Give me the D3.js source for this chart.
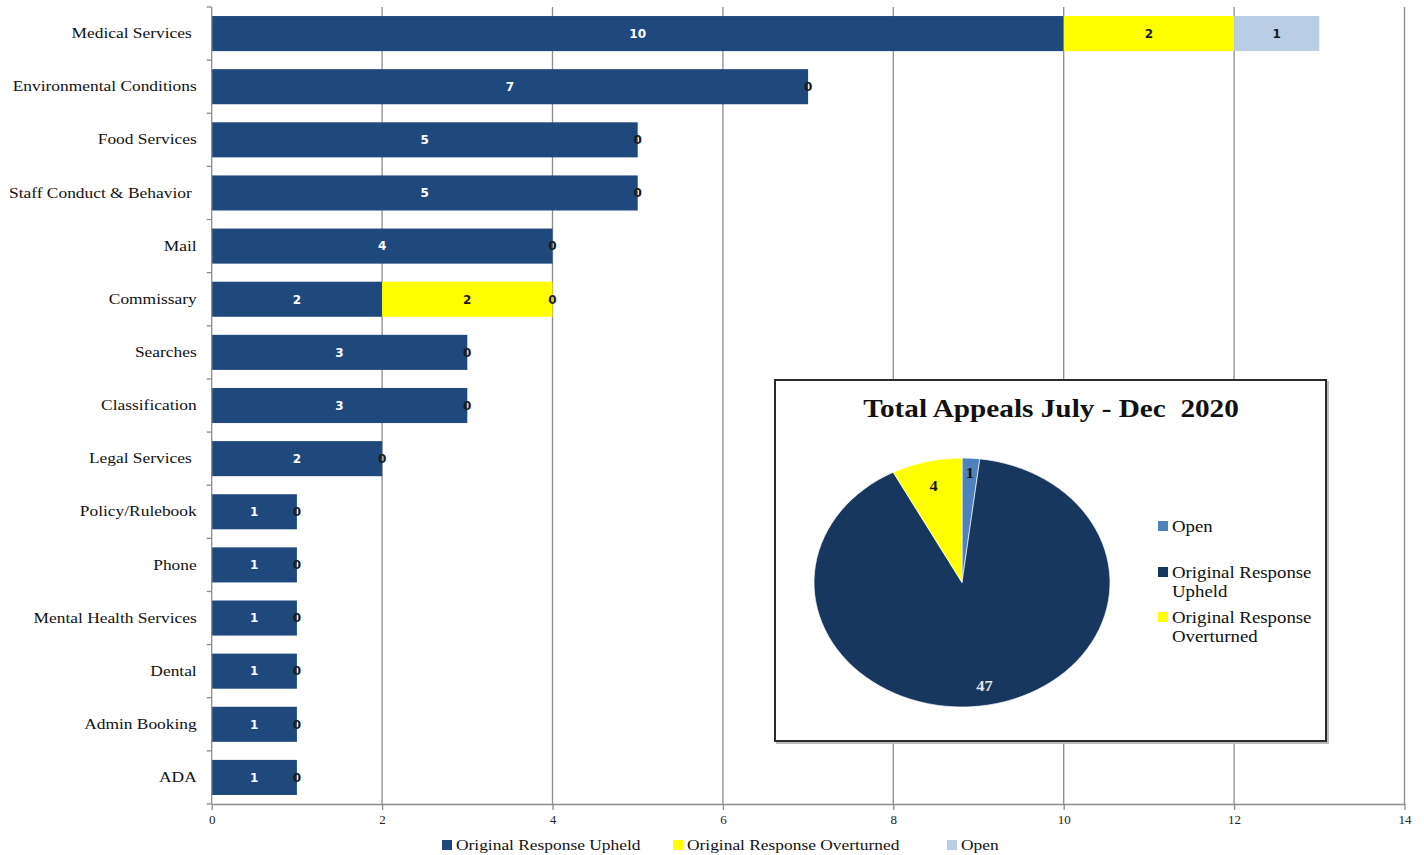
<!DOCTYPE html>
<html>
<head>
<meta charset="utf-8">
<script src="https://cdn.jsdelivr.net/npm/d3@7"></script>
<style>
  html, body { margin: 0; padding: 0; background: #fff; }
  svg { display: block; }
</style>
</head>
<body>
<svg id="chart" width="1424" height="855"></svg>
<script>
// Appeals by category
const categories = [
  "Medical Services ", "Environmental Conditions", "Food Services",
  "Staff Conduct & Behavior ", "Mail", "Commissary", "Searches",
  "Classification", "Legal Services ", "Policy/Rulebook", "Phone",
  "Mental Health Services", "Dental", "Admin Booking", "ADA"
];
const upheld     = [10, 7, 5, 5, 4, 2, 3, 3, 2, 1, 1, 1, 1, 1, 1];
const overturned = [2, 0, 0, 0, 0, 2, 0, 0, 0, 0, 0, 0, 0, 0, 0];
const openCount  = [1, null, null, null, null, 0, null, null, null, null, null, null, null, null, null];
const xTicks = [0, 2, 4, 6, 8, 10, 12, 14];

// Totals for the pie
const pieLabels = ["Open", "Original Response Upheld", "Original Response Overturned"];
const pieValues = [1, 47, 4];

const seriesNames = ["Original Response Upheld", "Original Response Overturned", "Open"];
const barColors = ["#1f497d", "#ffff00", "#b9cde5"];
const barText = ["#ffffff", "#1a1a1a", "#1a1a1a"];
const pieColors = ["#4f81bd", "#17375e", "#ffff00"];

const svg = d3.select("#chart");
const serif = "'Liberation Serif', 'DejaVu Serif', serif";
const sans = "'DejaVu Sans', 'Liberation Sans', sans-serif";
const wide = 1.2; // horizontal stretch of the serif lettering

const plotLeft = 211.7, plotRight = 1404.5, plotTop = 7, plotBottom = 804;
const x = d3.scaleLinear().domain([0, 14]).range([plotLeft, plotRight]);
const y = d3.scaleBand().domain(categories).range([plotTop, plotBottom]).paddingInner(0.34).paddingOuter(0.17);

// vertical gridlines
svg.append("g").selectAll("line").data(xTicks.filter(d => d > 0)).join("line")
  .attr("x1", d => x(d)).attr("x2", d => x(d))
  .attr("y1", plotTop).attr("y2", plotBottom)
  .attr("stroke", "#8c8c8c").attr("stroke-width", 1.3);

// stacked bars
const rows = categories.map((c, i) => ({ cat: c, vals: [upheld[i], overturned[i], openCount[i]] }));
const segs = [];
rows.forEach(r => {
  let acc = 0;
  r.vals.forEach((v, s) => {
    if (v === null) return;
    segs.push({ cat: r.cat, s, x0: acc, x1: acc + v, v });
    acc += v;
  });
});
// zero labels that would overlap at one spot: keep only the last series
const lastZero = {};
segs.forEach((d, k) => { if (d.v === 0) lastZero[d.cat] = k; });

svg.append("g").selectAll("rect").data(segs.filter(d => d.v > 0)).join("rect")
  .attr("x", d => x(d.x0)).attr("width", d => x(d.x1) - x(d.x0))
  .attr("y", d => y(d.cat)).attr("height", y.bandwidth())
  .attr("fill", d => barColors[d.s]);

svg.append("g").selectAll("text").data(segs.filter((d, k) => d.v > 0 || lastZero[d.cat] === k)).join("text")
  .attr("x", d => (x(d.x0) + x(d.x1)) / 2)
  .attr("y", d => y(d.cat) + y.bandwidth() / 2)
  .attr("dy", "0.36em")
  .attr("text-anchor", "middle")
  .attr("font-family", sans).attr("font-size", 12).attr("font-weight", "bold")
  .attr("fill", d => d.v === 0 ? "#1a1a1a" : barText[d.s])
  .text(d => d.v);

// y axis
const yAxis = svg.append("g").attr("transform", `translate(${plotLeft},0)`);
yAxis.append("line").attr("x1", 0).attr("x2", 0).attr("y1", plotTop).attr("y2", plotBottom)
  .attr("stroke", "#8c8c8c").attr("stroke-width", 1.3);
yAxis.selectAll("line.t").data(d3.range(categories.length + 1)).join("line").attr("class", "t")
  .attr("x1", -5).attr("x2", 0)
  .attr("y1", i => plotTop + i * (plotBottom - plotTop) / categories.length)
  .attr("y2", i => plotTop + i * (plotBottom - plotTop) / categories.length)
  .attr("stroke", "#8c8c8c").attr("stroke-width", 1.3);
yAxis.selectAll("text").data(categories).join("text")
  .attr("transform", c => `translate(${c.endsWith(" ") ? -20 : -15},${y(c) + y.bandwidth() / 2}) scale(${wide},1)`)
  .attr("dy", "0.32em")
  .attr("text-anchor", "end")
  .attr("font-family", serif).attr("font-size", 14.5)
  .attr("fill", "#111")
  .text(c => c.trim());

// x axis
const xAxisG = svg.append("g").attr("transform", `translate(0,${plotBottom})`)
  .call(d3.axisBottom(x).tickValues(xTicks).tickSize(6).tickSizeOuter(0));
xAxisG.select(".domain").attr("stroke", "#8c8c8c").attr("stroke-width", 1.3);
xAxisG.selectAll(".tick line").attr("stroke", "#8c8c8c").attr("stroke-width", 1.3);
xAxisG.selectAll(".tick text").attr("font-family", serif).attr("font-size", 13)
  .attr("fill", "#222").attr("dy", "0.2em").attr("y", 17);

// bottom legend
const legItems = [
  { name: seriesNames[0], color: barColors[0], x: 442 },
  { name: seriesNames[1], color: barColors[1], x: 673 },
  { name: seriesNames[2], color: barColors[2], x: 947 }
];
const leg = svg.append("g");
leg.selectAll("rect").data(legItems).join("rect")
  .attr("x", d => d.x).attr("y", 840).attr("width", 10).attr("height", 10)
  .attr("fill", d => d.color);
leg.selectAll("text").data(legItems).join("text")
  .attr("transform", d => `translate(${d.x + 14},845) scale(${wide},1)`)
  .attr("dy", "0.35em")
  .attr("font-family", serif).attr("font-size", 14.5).attr("fill", "#111")
  .text(d => d.name);

// inset pie panel
const box = { x: 775, y: 380, w: 551, h: 361 };
svg.append("rect").attr("x", box.x + 2).attr("y", box.y + 2).attr("width", box.w).attr("height", box.h)
  .attr("fill", "none").attr("stroke", "#bbb").attr("stroke-width", 2);
svg.append("rect").attr("x", box.x).attr("y", box.y).attr("width", box.w).attr("height", box.h)
  .attr("fill", "#fff").attr("stroke", "#2b2b2b").attr("stroke-width", 2);

svg.append("text").attr("transform", `translate(1051,408) scale(1.17,1)`).attr("dy", "0.35em")
  .attr("text-anchor", "middle").attr("font-family", serif).attr("font-weight", "bold")
  .attr("font-size", 25).attr("fill", "#111").attr("xml:space", "preserve")
  .text("Total Appeals July - Dec  2020");

const cx = 962, cy = 582.5, ry = 124.5, rx = 148;
const pieData = d3.pie().sort(null).value(d => d)(pieValues);
const arc = d3.arc().innerRadius(0).outerRadius(ry);
svg.append("g").attr("transform", `translate(${cx},${cy}) scale(${rx / ry},1)`)
  .selectAll("path").data(pieData).join("path")
  .attr("d", arc).attr("fill", (d, i) => pieColors[i])
  .attr("stroke", "#fff").attr("stroke-width", 0.6);

// pie value labels
const pieTextColor = ["#111", "#e8e8e8", "#111"];
const labelRadius = [0.88, 0.84, 0.80];
const labelPos = (d, i) => d3.arc().innerRadius(ry * labelRadius[i]).outerRadius(ry * labelRadius[i]).centroid(d);
svg.append("g").selectAll("text").data(pieData).join("text")
  .attr("transform", (d, i) => `translate(${cx + labelPos(d, i)[0] * rx / ry},${cy + labelPos(d, i)[1]}) scale(1.1,1)`)
  .attr("dy", "0.35em").attr("text-anchor", "middle")
  .attr("font-family", serif).attr("font-size", 15).attr("font-weight", "bold")
  .attr("fill", (d, i) => pieTextColor[i])
  .text(d => d.value);

// pie legend
const pieLeg = [
  { lines: ["Open"], y: 526 },
  { lines: ["Original Response", "Upheld"], y: 572 },
  { lines: ["Original Response", "Overturned"], y: 617 }
];
const pl = svg.append("g");
pl.selectAll("rect").data(pieLeg).join("rect")
  .attr("x", 1158).attr("y", d => d.y - 5).attr("width", 10).attr("height", 10)
  .attr("fill", (d, i) => pieColors[i]);
pl.selectAll("text").data(pieLeg).join("text")
  .attr("transform", d => `translate(1172,${d.y}) scale(1.14,1)`)
  .attr("font-family", serif).attr("font-size", 16.5).attr("fill", "#111")
  .selectAll("tspan").data(d => d.lines).join("tspan")
  .attr("x", 0).attr("dy", (t, j) => j === 0 ? "0.35em" : "1.15em")
  .text(t => t);
</script>
</body>
</html>
